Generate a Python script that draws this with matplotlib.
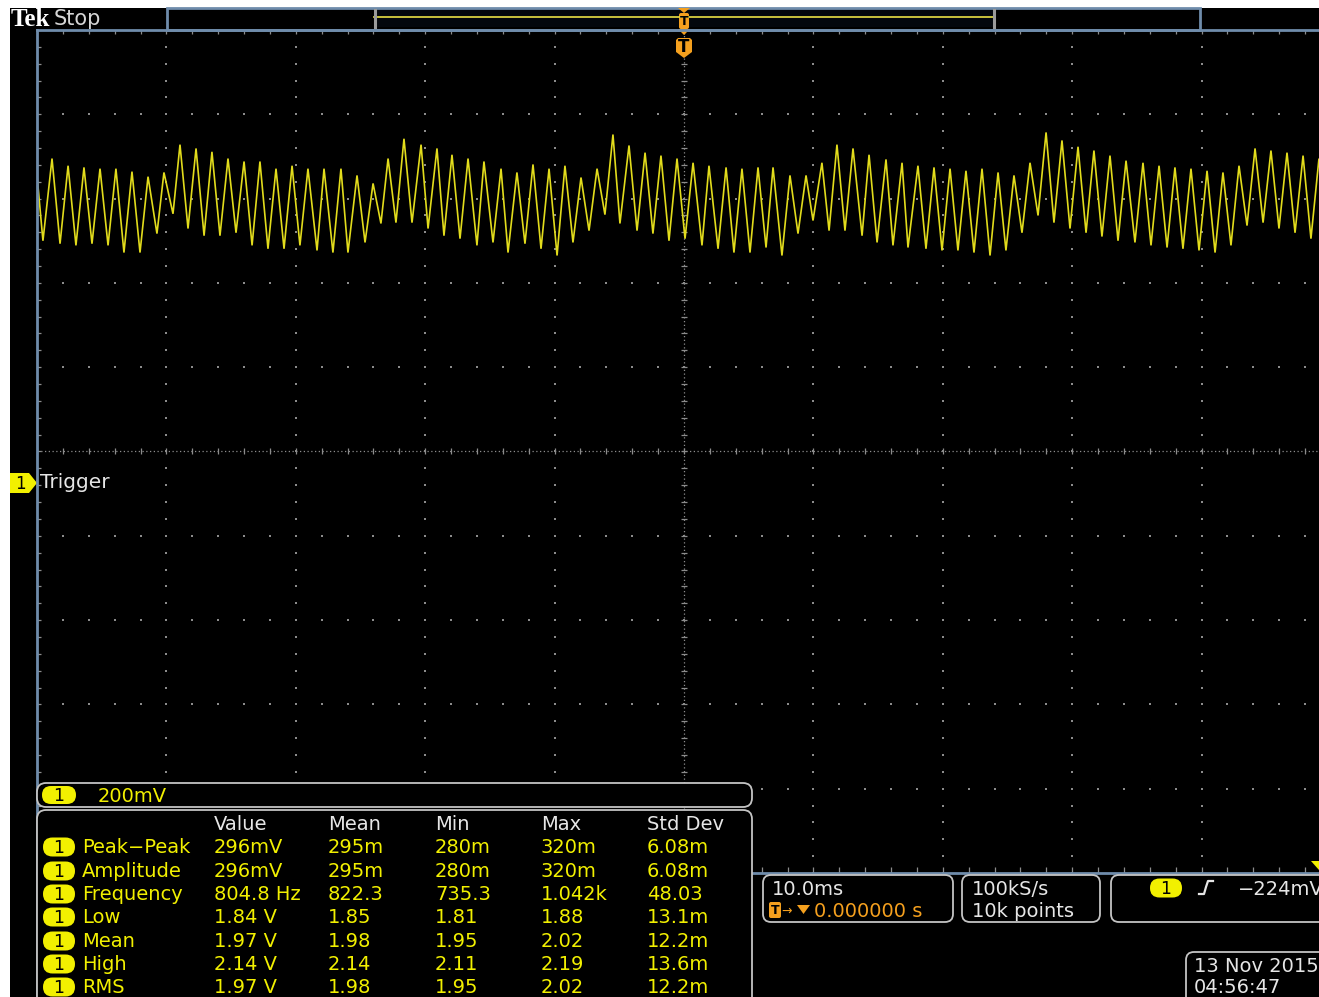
import numpy as np
import matplotlib
matplotlib.use("Agg")
import matplotlib.pyplot as plt
from matplotlib.patches import Rectangle, FancyBboxPatch, Polygon

W, H, DPI = 1319, 997, 100

# ---- acquisition settings ----
TIME_PER_DIV = 10.0      # ms / div
VOLTS_PER_DIV = 0.2      # V / div
CENTER_V = 1.37          # V at the horizontal centre line

# ---- channel 1 trace: turning points of the ripple (time in ms, level in V) ----
start_t, start_v = -50.0, 2.025
peak_t = [-48.84, -47.60, -46.37, -45.13, -43.90, -42.66, -41.42, -40.19, -38.95, -37.71,
          -36.48, -35.24, -34.00, -32.77, -31.53, -30.29, -29.06, -27.82, -26.51, -25.27,
          -24.03, -22.87, -21.64, -20.32, -19.09, -17.93, -16.69, -15.46, -14.14, -12.91,
          -11.67, -10.43, -9.20, -7.96, -6.72, -5.49, -4.25, -3.01, -1.78, -0.54,
          0.70, 1.93, 3.25, 4.48, 5.72, 6.88, 8.19, 9.43, 10.66, 11.82,
          13.06, 14.30, 15.61, 16.85, 18.08, 19.32, 20.56, 21.79, 23.03, 24.27,
          25.50, 26.74, 27.98, 29.21, 30.45, 31.68, 32.92, 34.16, 35.47, 36.71,
          37.94, 39.18, 40.42, 41.65, 42.89, 44.13, 45.36, 46.60, 47.84, 49.07]
peak_v = [2.065, 2.048, 2.044, 2.041, 2.041, 2.034, 2.022, 2.032, 2.098, 2.089,
          2.081, 2.065, 2.058, 2.058, 2.041, 2.048, 2.041, 2.041, 2.041, 2.025,
          2.006, 2.065, 2.112, 2.098, 2.089, 2.074, 2.065, 2.058, 2.041, 2.032,
          2.051, 2.041, 2.048, 2.020, 2.041, 2.122, 2.096, 2.079, 2.072, 2.065,
          2.055, 2.048, 2.044, 2.041, 2.044, 2.044, 2.025, 2.025, 2.055, 2.098,
          2.089, 2.074, 2.063, 2.055, 2.048, 2.044, 2.041, 2.036, 2.041, 2.032,
          2.025, 2.055, 2.127, 2.108, 2.093, 2.084, 2.072, 2.060, 2.055, 2.048,
          2.044, 2.041, 2.036, 2.032, 2.048, 2.089, 2.084, 2.079, 2.072, 2.065]
trough_t = [-49.54, -48.22, -46.99, -45.75, -44.51, -43.28, -42.04, -40.73, -39.49, -38.33,
            -37.09, -35.86, -34.62, -33.38, -32.15, -30.91, -29.68, -28.36, -27.13, -25.97,
            -24.65, -23.42, -22.26, -21.02, -19.78, -18.55, -17.31, -16.00, -14.76, -13.60,
            -12.29, -11.05, -9.81, -8.58, -7.34, -6.11, -4.95, -3.63, -2.40, -1.16,
            0.08, 1.39, 2.63, 3.86, 5.10, 6.34, 7.57, 8.81, 9.97, 11.21,
            12.44, 13.76, 14.92, 16.15, 17.31, 18.70, 19.94, 21.17, 22.41, 23.65,
            24.88, 26.12, 27.36, 28.59, 29.83, 31.07, 32.30, 33.54, 34.85, 36.09,
            37.33, 38.56, 39.80, 41.04, 42.27, 43.51, 44.75, 45.98, 47.22, 48.45, 49.69]
trough_v = [1.870, 1.863, 1.859, 1.863, 1.859, 1.842, 1.842, 1.887, 1.934, 1.899,
            1.882, 1.882, 1.889, 1.859, 1.851, 1.851, 1.859, 1.847, 1.842, 1.842,
            1.866, 1.911, 1.913, 1.913, 1.899, 1.882, 1.875, 1.859, 1.866, 1.842,
            1.863, 1.851, 1.835, 1.866, 1.894, 1.932, 1.911, 1.894, 1.887, 1.870,
            1.875, 1.859, 1.851, 1.842, 1.842, 1.854, 1.835, 1.887, 1.918, 1.894,
            1.894, 1.882, 1.866, 1.859, 1.854, 1.851, 1.847, 1.847, 1.842, 1.835,
            1.847, 1.889, 1.930, 1.913, 1.899, 1.889, 1.880, 1.870, 1.866, 1.859,
            1.854, 1.851, 1.847, 1.842, 1.859, 1.906, 1.913, 1.899, 1.889, 1.875, 1.870]

# ---- measurement statistics ----
meas_names = ["Peak\u2212Peak", "Amplitude", "Frequency", "Low", "Mean", "High", "RMS"]
stat_cols = ["Value", "Mean", "Min", "Max", "Std Dev"]
stat_value = ["296mV", "296mV", "804.8 Hz", "1.84 V", "1.97 V", "2.14 V", "1.97 V"]
stat_mean = ["295m", "295m", "822.3", "1.85", "1.98", "2.14", "1.98"]
stat_min = ["280m", "280m", "735.3", "1.81", "1.95", "2.11", "1.95"]
stat_max = ["320m", "320m", "1.042k", "1.88", "2.02", "2.19", "2.02"]
stat_std = ["6.08m", "6.08m", "48.03", "13.1m", "12.2m", "13.6m", "12.2m"]

ch1_scale = "200mV"
horiz_scale = "10.0ms"
trig_pos = "0.000000 s"
sample_rate = "100kS/s"
record_len = "10k points"
trig_level = "\u2212224mV"
date_str = "13 Nov 2015"
time_str = "04:56:47"

# ---- colours ----
YEL = "#f2f000"
TRACE = "#e2dc1c"
ORANGE = "#f5a01e"
GRID = "#8c8c8c"
FRAME = "#6f8cab"
BOXEDGE = "#c4c4c4"
TXT = "#e6e6e6"
FS = 14

fig = plt.figure(figsize=(W / DPI, H / DPI), dpi=DPI)
fig.patch.set_facecolor("white")

# screen background
bg = fig.add_axes([0, 0, 1, 1], zorder=0)
bg.set_xlim(0, W); bg.set_ylim(H, 0); bg.axis("off")
bg.add_patch(Rectangle((10, 8), W - 10, H - 8, facecolor="black", edgecolor="none"))

# ---- graticule ----
gx0, gx1 = 37, 37 + 10 * 129.4
gy0, gy1 = 30, 873
ax = fig.add_axes([gx0 / W, 1 - gy1 / H, (gx1 - gx0) / W, (gy1 - gy0) / H], zorder=1)
ax.set_facecolor("none")
tlo, thi = -5 * TIME_PER_DIV, 5 * TIME_PER_DIV
vlo, vhi = CENTER_V - 5 * VOLTS_PER_DIV, CENTER_V + 5 * VOLTS_PER_DIV
ax.set_xlim(tlo, thi); ax.set_ylim(vlo, vhi)
ax.axis("off")

t_major = np.linspace(tlo, thi, 11)
v_major = np.linspace(vlo, vhi, 11)
t_minor = np.linspace(tlo, thi, 51)
v_minor = np.linspace(vlo, vhi, 51)

for tm in t_major[1:-1]:
    if abs(tm) < 1e-9:
        continue
    ax.plot(np.full_like(v_minor, tm), v_minor, ls="none", marker="s", ms=1.5, mew=0, color=GRID)
for vm in v_major[1:-1]:
    if abs(vm - CENTER_V) < 1e-9:
        continue
    ax.plot(t_minor, np.full_like(t_minor, vm), ls="none", marker="s", ms=1.5, mew=0, color=GRID)

# centre cross-hair with minor ticks
ax.plot([0, 0], [vlo, vhi], color=GRID, lw=0.9, ls=(0, (1, 2)))
ax.plot([tlo, thi], [CENTER_V, CENTER_V], color=GRID, lw=0.9, ls=(0, (1, 2)))
ax.plot(np.zeros_like(v_minor), v_minor, ls="none", marker="_", ms=5, mew=0.9, color=GRID)
ax.plot(t_minor, np.full_like(t_minor, CENTER_V), ls="none", marker="|", ms=5, mew=0.9, color=GRID)

# edge ticks
ax.plot(t_minor, np.full_like(t_minor, vhi), ls="none", marker="|", ms=6, mew=0.9, color=GRID)
ax.plot(t_minor, np.full_like(t_minor, vlo), ls="none", marker="|", ms=8, mew=0.9, color=GRID)
ax.plot(np.full_like(v_minor, tlo), v_minor, ls="none", marker="_", ms=6, mew=0.9, color=GRID)

# channel 1 waveform
tt = np.array([start_t] + peak_t + trough_t)
vv = np.array([start_v] + peak_v + trough_v)
order = np.argsort(tt)
ax.plot(tt[order], vv[order], color=TRACE, lw=1.2, solid_joinstyle="miter")

# ---- overlay in screen pixels ----
ov = fig.add_axes([0, 0, 1, 1], zorder=2)
ov.set_facecolor("none")
ov.set_xlim(0, W); ov.set_ylim(H, 0); ov.axis("off")

# frame lines
ov.plot([gx0, W], [gy0, gy0], color=FRAME, lw=2)
ov.plot([gx0, gx0], [gy0, H], color=FRAME, lw=2)
ov.plot([gx0, W], [gy1, gy1], color=FRAME, lw=2)

# status bar
ov.text(11, 26, "Tek", color="white", fontsize=18, fontweight="bold",
        family="Liberation Serif", va="baseline")
ov.text(54, 25, "Stop", color="#d6d6d6", fontsize=15, va="baseline")
ov.add_patch(Rectangle((167, 8), 1200 - 167, gy0 - 8, facecolor="black", edgecolor=FRAME, lw=2))
ov.add_patch(Rectangle((374, 10), 995 - 374, 17, facecolor="#03070d", edgecolor="none"))
ov.plot([374, 995], [17.5, 17.5], color="#d8d040", lw=1.3)
ov.plot([375, 375], [10, 27], color="#9a9a9a", lw=2.2)
ov.plot([994, 994], [10, 27], color="#9a9a9a", lw=2.2)

# trigger position markers
ov.add_patch(Polygon([(678, 8), (690, 8), (684, 13)], closed=True, fc=ORANGE, ec="none"))
ov.add_patch(FancyBboxPatch((679, 13), 10, 16, boxstyle="round,pad=0,rounding_size=2",
                            fc=ORANGE, ec="none"))
ov.add_patch(Polygon([(678, 29), (690, 29), (684, 35)], closed=True, fc=ORANGE, ec="none"))
ov.text(684, 21.5, "T", color="black", fontsize=9, fontweight="bold", ha="center", va="center")
ov.add_patch(Polygon([(676, 40), (678, 38), (690, 38), (692, 40), (692, 52), (684, 58), (676, 52)],
                     closed=True, fc=ORANGE, ec="none"))
ov.text(684, 47, "T", color="black", fontsize=12, fontweight="bold", ha="center", va="center")

# channel ground marker and label
ov.add_patch(Polygon([(10, 473), (29, 473), (37, 483), (29, 493), (10, 493)], closed=True,
                     fc=YEL, ec="none"))
ov.text(20, 484, "1", color="black", fontsize=12, ha="center", va="center")
ov.text(40, 488, "Trigger", color=TXT, fontsize=14.5, va="baseline")

# trigger level arrow at right edge
ov.add_patch(Polygon([(1311, 861), (1319, 861), (1319, 870)], closed=True, fc=YEL, ec="none"))


def pill(cx, cy, w=32, h=19):
    ov.add_patch(FancyBboxPatch((cx - w / 2, cy - h / 2), w, h,
                                boxstyle="round,pad=0,rounding_size=%g" % (h / 2),
                                fc=YEL, ec="none", zorder=3))
    ov.text(cx, cy + 0.5, "1", color="black", fontsize=12.5, ha="center", va="center", zorder=4)


def rbox(x, y, w, h, r=8):
    ov.add_patch(FancyBboxPatch((x, y), w, h, boxstyle="round,pad=0,rounding_size=%g" % r,
                                fc="black", ec=BOXEDGE, lw=1.3, zorder=2))


# channel scale bar
rbox(37, 783, 752 - 37, 24, r=9)
pill(59, 795, w=34, h=18)
ov.text(98, 802, ch1_scale, color=YEL, fontsize=FS, va="baseline", zorder=4)

# measurement table
rbox(37, 810, 752 - 37, 200, r=9)
col_x = [214, 328, 435, 541, 647]
header_base = 830
row_base = [853, 877, 900, 923, 947, 970, 993]
for cx, name in zip(col_x, stat_cols):
    ov.text(cx, header_base, name, color=TXT, fontsize=FS, va="baseline", zorder=4)
columns = [stat_value, stat_mean, stat_min, stat_max, stat_std]
for i, name in enumerate(meas_names):
    yb = row_base[i]
    pill(59, yb - 6)
    ov.text(82, yb, name, color=YEL, fontsize=FS, va="baseline", zorder=4)
    for cx, col in zip(col_x, columns):
        ov.text(cx, yb, col[i], color=YEL, fontsize=FS, va="baseline", zorder=4)

# horizontal / acquisition / trigger readouts
rbox(763, 875, 953 - 763, 47)
ov.text(772, 895, horiz_scale, color=TXT, fontsize=FS, va="baseline", zorder=4)
ov.add_patch(FancyBboxPatch((769, 902), 12, 16, boxstyle="round,pad=0,rounding_size=2",
                            fc=ORANGE, ec="none", zorder=3))
ov.text(775, 910.5, "T", color="black", fontsize=9, fontweight="bold", ha="center", va="center", zorder=4)
ov.text(781, 915, "\u2192", color=ORANGE, fontsize=9, va="baseline", zorder=4)
ov.add_patch(Polygon([(797, 905), (810, 905), (803.5, 914)], closed=True, fc=ORANGE, ec="none", zorder=3))
ov.text(814, 917, trig_pos, color=ORANGE, fontsize=FS, va="baseline", zorder=4)

rbox(962, 875, 1100 - 962, 47)
ov.text(972, 895, sample_rate, color=TXT, fontsize=FS, va="baseline", zorder=4)
ov.text(972, 917, record_len, color=TXT, fontsize=FS, va="baseline", zorder=4)

rbox(1111, 875, 260, 47)
pill(1166, 888)
ov.plot([1199, 1204, 1206, 1208, 1213], [894, 894, 887, 881, 881], color=TXT, lw=1.6, zorder=4)
ov.text(1238, 895, trig_level, color=TXT, fontsize=FS, va="baseline", zorder=4)

rbox(1186, 952, 180, 60)
ov.text(1194, 972, date_str, color=TXT, fontsize=FS, va="baseline", zorder=4)
ov.text(1194, 993, time_str, color=TXT, fontsize=FS, va="baseline", zorder=4)

fig.savefig("out.png", dpi=DPI, facecolor="white")
